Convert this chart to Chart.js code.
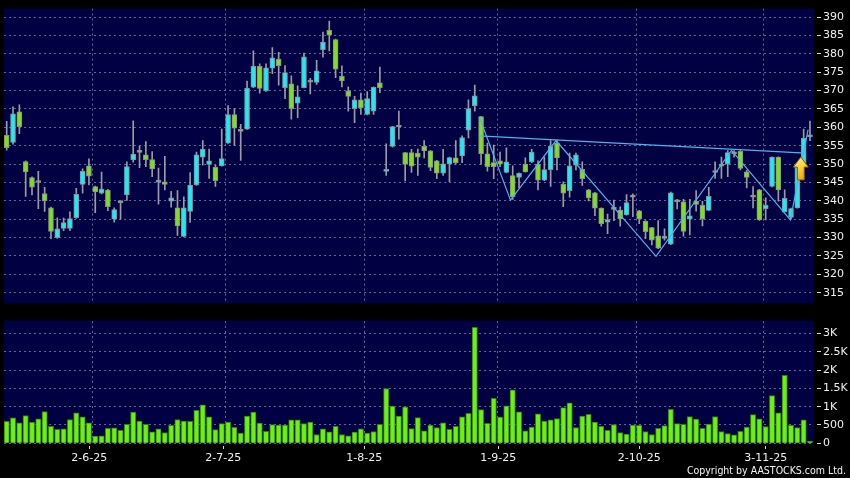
<!DOCTYPE html>
<html><head><meta charset="utf-8">
<script src="https://cdn.jsdelivr.net/npm/chart.js@4.4.1/dist/chart.umd.min.js"></script>
<style>
html,body{margin:0;padding:0;background:#000;width:850px;height:478px;overflow:hidden;}
#p{position:absolute;left:0;top:0;width:850px;height:312px;}
#v{position:absolute;left:0;top:312px;width:850px;height:166px;}
#copy{position:absolute;right:4px;top:464px;color:#f4f4f4;font-family:"DejaVu Sans Condensed","DejaVu Sans",sans-serif;font-stretch:condensed;font-size:10.5px;line-height:normal;white-space:nowrap;}
</style></head><body>
<div id="p"><canvas id="pc"></canvas></div>
<div id="v"><canvas id="vc"></canvas></div>
<div id="copy">Copyright by AASTOCKS.com Ltd.</div>
<script>
// ---- data ----
const openP = [357.8,355.9,364.2,350.7,346.3,345.2,342.0,338.1,330.0,332.5,332.5,335.4,344.5,349.5,343.9,342.1,342.9,335.0,339.6,341.6,
351.1,353.3,352.5,351.2,345.1,345.2,339.9,338.1,330.3,337.1,344.3,351.9,349.9,349.1,349.5,355.7,363.5,359.0,359.5,370.9,
376.6,369.9,376.1,378.6,370.8,371.8,366.6,370.8,372.4,372.2,381.1,386.4,383.9,373.9,369.9,365.1,367.5,363.5,364.4,372.1,
348.0,354.8,360.2,353.1,353.1,353.0,354.8,353.6,350.9,347.5,350.0,351.7,352.2,359.2,365.9,362.9,352.8,350.4,350.9,347.7,
346.9,346.4,350.0,350.6,350.0,345.6,348.5,355.7,344.5,342.8,349.7,348.6,343.0,342.2,338.0,334.2,337.8,337.5,336.2,341.1,
337.3,334.5,332.7,330.5,329.9,328.2,339.9,339.7,335.0,339.9,338.8,337.4,347.8,350.0,350.0,352.9,353.5,347.9,341.1,343.0,
337.9,343.9,351.9,337.0,335.5,338.1,349.5,357.5];
const highP = [361.6,365.6,366.1,350.9,346.5,348.0,343.7,338.3,335.4,335.3,337.0,343.4,348.7,351.4,344.0,347.8,343.1,338.1,339.7,350.6,
361.8,354.9,356.1,353.4,348.9,352.1,342.6,342.8,341.1,347.7,353.3,356.4,354.1,349.7,359.5,365.9,365.1,360.8,372.6,380.8,
377.3,377.3,381.7,380.4,376.8,374.0,371.3,380.2,373.3,378.2,385.9,388.9,384.0,376.7,371.0,368.4,369.3,369.7,371.0,376.4,
355.5,360.3,364.4,353.2,354.0,354.1,356.4,353.7,351.0,354.0,351.9,356.4,357.7,367.5,371.5,363.0,355.7,355.2,353.3,354.4,
349.5,347.6,351.7,354.0,350.9,351.9,356.4,356.4,345.2,353.0,353.0,350.6,343.1,342.3,338.1,336.4,340.2,338.4,341.7,341.9,
337.4,334.6,332.8,334.6,332.4,342.4,340.4,340.4,340.4,342.8,339.9,343.7,350.6,351.9,353.7,353.7,353.7,348.3,343.9,343.1,
340.8,352.0,352.0,343.0,338.0,350.0,359.5,361.7];
const lowP = [353.8,355.4,358.3,341.2,341.6,337.9,337.1,329.7,329.8,331.9,331.9,335.2,342.1,344.3,336.8,341.9,337.3,334.2,335.0,340.1,
350.5,349.0,349.3,346.6,339.1,343.0,338.3,330.6,330.2,334.1,344.2,349.7,346.1,343.9,349.4,355.6,355.1,351.0,359.4,370.8,
369.3,369.8,374.6,371.5,367.8,362.2,362.6,370.7,369.1,371.7,379.1,380.8,373.5,371.0,364.4,361.3,363.5,363.4,363.5,369.4,
346.9,354.6,356.8,345.4,347.7,346.9,351.7,348.2,346.0,346.9,345.2,350.0,350.4,357.1,364.4,349.9,348.1,346.0,349.3,347.6,
340.4,343.5,347.8,350.4,343.0,345.5,343.9,348.4,338.4,341.0,348.4,344.2,340.0,336.0,333.1,331.1,334.6,333.1,336.1,335.7,
333.8,329.7,328.0,327.0,329.3,328.1,337.8,330.4,330.7,337.2,333.2,337.3,346.1,346.1,346.6,351.9,348.4,343.5,338.1,334.7,
334.8,343.8,339.9,336.9,335.0,338.0,349.3,356.4];
const closeP = [354.5,363.7,360.2,347.9,343.7,345.0,340.0,331.7,332.4,334.1,335.2,341.8,348.0,346.7,342.4,343.2,338.4,337.6,339.5,349.3,
352.7,353.2,351.2,348.7,345.6,344.5,340.8,333.2,338.1,344.3,352.5,354.1,350.9,345.5,351.5,363.5,359.8,358.9,370.7,376.6,
370.6,376.2,378.9,376.8,374.9,365.1,368.3,379.2,372.3,375.4,383.2,385.1,375.8,372.6,368.4,367.5,365.3,367.8,370.9,370.7,
348.5,360.2,360.1,349.9,349.4,351.9,353.6,349.1,347.5,350.1,351.8,350.4,357.2,365.1,368.6,352.8,349.3,349.3,350.0,350.6,
341.1,347.5,347.9,353.3,345.6,348.5,354.8,351.7,342.1,349.5,352.5,346.0,340.8,338.0,333.8,334.9,337.7,335.1,339.5,341.0,
335.1,331.6,329.3,327.1,329.8,342.2,339.7,331.7,335.9,339.0,335.0,341.2,347.7,349.4,353.1,352.8,348.8,346.4,341.0,334.8,
338.8,351.9,343.0,340.7,337.9,349.3,357.1,357.4];
const volume = [597,695,561,757,570,668,864,463,383,392,650,829,722,561,196,205,410,419,356,517,
855,606,517,312,392,294,490,650,606,597,900,1051,722,374,535,579,437,276,740,855,
552,330,508,499,499,641,641,535,579,241,392,312,463,241,205,303,392,276,321,517,
1497,1016,740,998,401,704,339,499,428,562,383,463,722,820,3164,918,544,1230,713,1025,
1462,856,339,446,802,606,642,677,972,1105,428,740,793,579,463,357,508,294,250,499,
490,321,241,410,481,927,535,517,731,660,410,526,731,321,267,232,330,446,784,668,
455,1301,829,1854,490,428,642,53];
const dateLabels = ['2-6-25','2-7-25','1-8-25','1-9-25','2-10-25','3-11-25'];
const dateLabelAt = [13.06,34.25,56.54,77.72,100.0,120.0];   // candle index of each date label
const dateGridAt  = [13.53,34.56,56.54,77.63,99.54,119.62];  // candle index of each vertical grid line
const priceTicks = [315,320,325,330,335,340,345,350,355,360,365,370,375,380,385,390];
const volTicks = [0,500,1000,1500,2000,2500,3000];
const volTickLabels = ['0','500','1K','1.5K','2K','2.5K','3K'];
const necklineX = [74.7,126.3];
const necklineY = [357.7,353.0];
const zigzagX = [74.7,79.65,86.85,102.66,114.6,123.9,126.7];
const zigzagY = [362.9,340.2,356.4,324.9,353.7,334.8,359.4];
const arrowIndex = 125.55, arrowFrom = 345.7, arrowTo = 351.9;

// ---- build ----
const idx = openP.map((_, i) => i);
const X_MIN = -0.427, X_MAX = 127.636;
const UP = '#22e8f4', DOWN = '#7ddf1f', DOJI = '#a8a8a8';
const bodyColor = idx.map(i => Math.abs(closeP[i]-openP[i]) < 0.25 ? DOJI : (closeP[i] > openP[i] ? UP : DOWN));
const GRID = 'rgba(125,125,175,0.8)';
const TXT = '#f0f0f0';
const FONT = {family:'DejaVu Sans', size:11};

const bgPlugin = {id:'bg', beforeDraw(c){const a=c.chartArea, ctx=c.ctx; ctx.save(); ctx.fillStyle='#000042'; ctx.fillRect(a.left,a.top,a.right-a.left,a.bottom-a.top); ctx.restore();}};
const arrowPlugin = {id:'arrow', afterDatasetsDraw(c){
  const ctx=c.ctx, x=c.scales.x.getPixelForValue(arrowIndex), yt=c.scales.y.getPixelForValue(arrowTo), yb=c.scales.y.getPixelForValue(arrowFrom);
  const hw=7.5, sw=3.4, hh=10;
  ctx.save(); ctx.beginPath();
  ctx.moveTo(x,yt); ctx.lineTo(x+hw,yt+hh); ctx.lineTo(x+sw,yt+hh); ctx.lineTo(x+sw,yb); ctx.lineTo(x-sw,yb); ctx.lineTo(x-sw,yt+hh); ctx.lineTo(x-hw,yt+hh); ctx.closePath();
  const g=ctx.createLinearGradient(x-hw,yt,x+hw,yb); g.addColorStop(0,'#fff2a0'); g.addColorStop(0.45,'#ffd23a'); g.addColorStop(1,'#e89a00');
  ctx.fillStyle=g; ctx.fill(); ctx.lineWidth=1; ctx.strokeStyle='#8a6200'; ctx.stroke(); ctx.restore();
}};

function xScale(extra){
  return Object.assign({type:'linear', min:X_MIN, max:X_MAX, offset:false,
    border:{display:false, dash:[2,3]},
    grid:{color:GRID, lineWidth:1, drawTicks:false, offset:false},
    ticks:{display:false},
    afterBuildTicks(s){ s.ticks = dateGridAt.map(v=>({value:v})); },
    afterFit(s){ s.height = 0; }
  }, extra||{});
}

new Chart(document.getElementById('pc'), {
  type:'bar',
  data:{datasets:[
    {type:'line', label:'neck', data:necklineX.map((x,i)=>({x, y:necklineY[i]})), borderColor:'#52b2ec', borderWidth:1.2, pointRadius:0, tension:0, order:-2},
    {type:'line', label:'zig', data:zigzagX.map((x,i)=>({x, y:zigzagY[i]})), borderColor:'#52b2ec', borderWidth:1.2, pointRadius:0, tension:0, order:-1},
    {label:'body', data:idx.map(i=>({x:i, y:[openP[i],closeP[i]]})), backgroundColor:bodyColor, borderColor:'#8e8e8e', borderWidth:1, borderSkipped:false, barThickness:5, minBarLength:2, grouped:false, order:0},
    {label:'wick', data:idx.map(i=>({x:i, y:[lowP[i],highP[i]]})), backgroundColor:'#9c9c9c', borderWidth:0, barThickness:1, grouped:false, order:1}
  ]},
  options:{
    responsive:true, maintainAspectRatio:false, animation:false,
    layout:{padding:{left:4, top:5.5, right:0, bottom:6}},
    plugins:{legend:{display:false}, tooltip:{enabled:false}},
    scales:{
      x: xScale({position:'bottom'}),
      y:{position:'right', min:312.1, max:392.3,
        border:{display:false, dash:[2,3]},
        grid:{color:GRID, lineWidth:1, drawTicks:true, tickLength:7, tickColor:'#d8d8d8', tickBorderDash:[0,3,4,30]},
        ticks:{color:TXT, font:FONT, padding:2},
        afterBuildTicks(s){ s.ticks = priceTicks.map(v=>({value:v})); },
        afterFit(s){ s.width = 36; }
      }
    }
  },
  plugins:[bgPlugin, arrowPlugin]
});

new Chart(document.getElementById('vc'), {
  type:'bar',
  data:{datasets:[
    {label:'vol', data:idx.map(i=>({x:i, y:volume[i]})), backgroundColor:'#6cf014', borderColor:'#347f08', borderWidth:1, borderSkipped:'bottom', barThickness:5.3}
  ]},
  options:{
    responsive:true, maintainAspectRatio:false, animation:false,
    layout:{padding:{left:4, top:6.3, right:0, bottom:0}},
    plugins:{legend:{display:false}, tooltip:{enabled:false}},
    scales:{
      xg: xScale({position:'top'}),
      x:{type:'linear', position:'bottom', min:X_MIN, max:X_MAX, offset:false,
        border:{display:false},
        grid:{drawOnChartArea:false, drawTicks:true, offset:false, tickLength:7, tickColor:'#d8d8d8', tickBorderDash:[0,3,3,30]},
        ticks:{color:TXT, font:FONT, padding:1, maxRotation:0, autoSkip:false,
          callback(v){ const k=dateLabelAt.indexOf(v); return k>=0 ? dateLabels[k] : ''; }},
        afterBuildTicks(s){ s.ticks = dateLabelAt.map(v=>({value:v})); },
        afterFit(s){ s.height = 34.7; }
      },
      y:{position:'right', min:0, max:3350,
        border:{display:false, dash:[2,3]},
        grid:{color:GRID, lineWidth:1, drawTicks:true, tickLength:7, tickColor:'#d8d8d8', tickBorderDash:[0,3,4,30]},
        ticks:{color:TXT, font:FONT, padding:2,
          callback(v){ const k=volTicks.indexOf(v); return k>=0 ? volTickLabels[k] : ''; }},
        afterBuildTicks(s){ s.ticks = volTicks.map(v=>({value:v})); },
        afterFit(s){ s.width = 36; }
      }
    }
  },
  plugins:[bgPlugin]
});
</script>
</body></html>
